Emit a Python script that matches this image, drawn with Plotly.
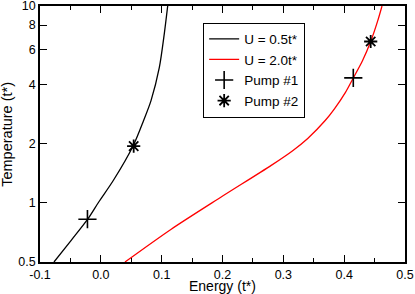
import plotly.graph_objects as go

# U = 0.5t* curve
e_u05 = [-0.0770, -0.0484, -0.0216, -0.0037, 0.0207, 0.0534, 0.0703, 0.0825, 0.0961, 0.1043, 0.1099]
t_u05 = [0.5, 0.646, 0.825, 1.006, 1.301, 1.956, 2.618, 3.305, 4.856, 7.22, 10.0]
# U = 2.0t* curve
e_u20 = [0.0397, 0.1157, 0.1972, 0.2801, 0.3159, 0.3401, 0.3688, 0.3843, 0.4019,
         0.4150, 0.4301, 0.4436, 0.4551, 0.4622]
t_u20 = [0.5, 0.734, 1.067, 1.549, 1.845, 2.123, 2.618, 3.011, 3.628,
         4.307, 5.27, 6.60, 8.40, 10.0]
# Pump markers
e_p1 = [-0.022, 0.415]
t_p1 = [0.825, 4.31]
e_p2 = [0.054, 0.4436]
t_p2 = [1.94, 6.6]

x_ticks = [-0.1, 0.0, 0.1, 0.2, 0.3, 0.4, 0.5]
x_labels = ["-0.1", "0.0", "0.1", "0.2", "0.3", "0.4", "0.5"]
y_ticks = [0.5, 1, 2, 4, 6, 8, 10]
y_labels = ["0.5", "1", "2", "4", "6", "8", "10"]
x_title = "Energy (t*)"
y_title = "Temperature (t*)"

fig = go.Figure()
fig.add_trace(go.Scatter(x=e_u05, y=t_u05, mode="lines", name="U = 0.5t*",
                         line=dict(color="black", width=1.3, shape="spline", smoothing=0.8)))
fig.add_trace(go.Scatter(x=e_u20, y=t_u20, mode="lines", name="U = 2.0t*",
                         line=dict(color="red", width=1.3, shape="spline", smoothing=0.8)))
fig.add_trace(go.Scatter(x=e_p1, y=t_p1, mode="markers", name="Pump #1",
                         marker=dict(symbol="cross-thin", size=13, color="black",
                                     line=dict(color="black", width=1.6))))
fig.add_trace(go.Scatter(x=e_p2, y=t_p2, mode="markers", name="Pump #2",
                         marker=dict(symbol="asterisk", size=11, color="black",
                                     line=dict(color="black", width=1.8))))

font = dict(family="Liberation Sans, Arial, sans-serif", size=12.5, color="black")
fig.update_layout(
    width=415, height=294,
    margin=dict(l=40, r=10, t=6, b=32),
    paper_bgcolor="white", plot_bgcolor="white",
    font=font,
    showlegend=True,
    legend=dict(x=0.447, y=0.935, xanchor="left", yanchor="top",
                bordercolor="black", borderwidth=1, bgcolor="white",
                font=dict(size=13.5), tracegroupgap=0, itemwidth=30),
    annotations=[
        dict(text=x_title, xref="paper", yref="paper", x=0.5, y=-0.092,
             xanchor="center", yanchor="middle", showarrow=False,
             font=dict(size=14)),
        dict(text=y_title, xref="paper", yref="paper", x=-0.091, y=0.5,
             xanchor="center", yanchor="middle", showarrow=False, textangle=-90,
             font=dict(size=14.5)),
    ],
)
fig.update_xaxes(
    range=[-0.1, 0.5], tickvals=x_ticks, ticktext=x_labels, automargin=False,
    ticklabeloverflow="allow",
    ticks="inside", ticklen=7, tickwidth=1, tickcolor="black",
    minor=dict(dtick=0.05, ticks="inside", ticklen=4, tickcolor="black", tickwidth=1),
    showline=True, linecolor="black", linewidth=1.5, mirror="allticks",
    showgrid=False, zeroline=False,
)
fig.update_yaxes(
    type="log", range=[-0.30103, 1.0], tickvals=y_ticks, ticktext=y_labels, automargin=False,
    ticklabeloverflow="allow",
    ticks="inside", ticklen=7, tickwidth=1, tickcolor="black",
    showline=True, linecolor="black", linewidth=1.5, mirror="allticks",
    showgrid=False, zeroline=False,
)
fig.write_html("out.html", config={"displayModeBar": False},
               post_script="document.body.style.margin='0';document.body.style.padding='0';")
